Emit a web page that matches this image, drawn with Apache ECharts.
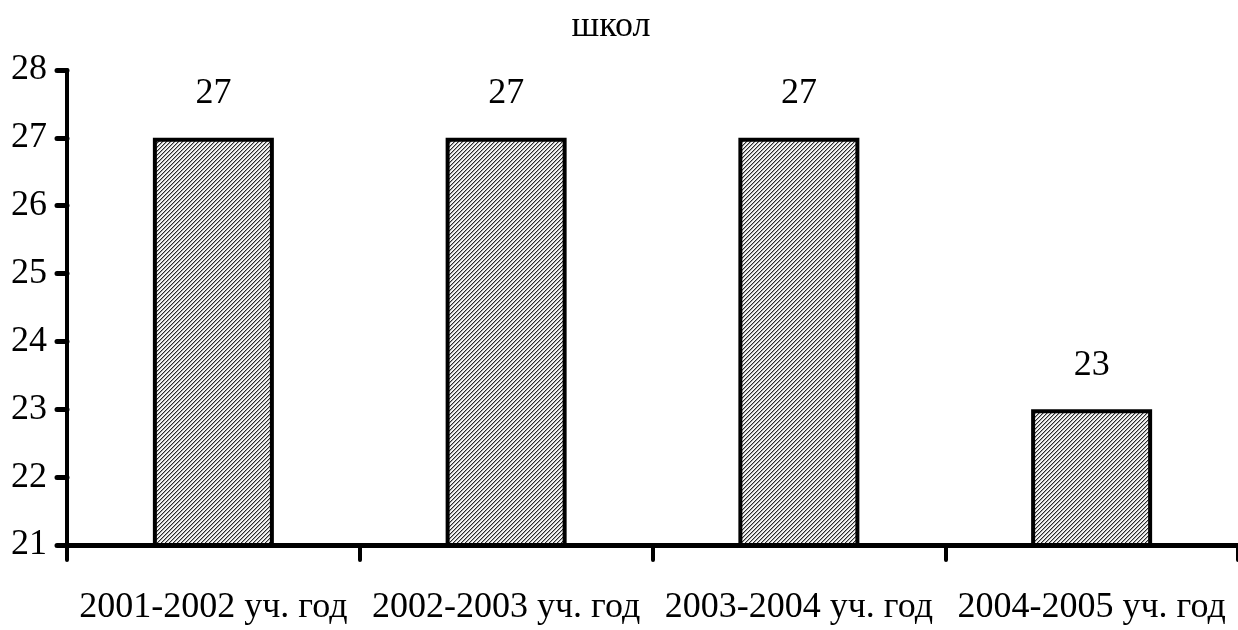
<!DOCTYPE html>
<html>
<head>
<meta charset="utf-8">
<script src="https://cdn.jsdelivr.net/npm/echarts@6/dist/echarts.min.js"></script>
<style>
html,body{margin:0;padding:0;background:#fff;}
#chart{width:1238px;height:630px;}
</style>
</head>
<body>
<div id="chart"></div>
<script>
const titleText = 'школ';
const categories = ['2001-2002 уч. год', '2002-2003 уч. год', '2003-2004 уч. год', '2004-2005 уч. год'];
const values = [27, 27, 27, 23];
const yMin = 21;
const yMax = 28;
const yInterval = 1;

function makePattern() {
  const c = document.createElement('canvas');
  c.width = 4; c.height = 4;
  const ctx = c.getContext('2d');
  ctx.fillStyle = '#f4f4f4';
  ctx.fillRect(0, 0, 4, 4);
  for (let i = 0; i < 4; i++) {
    ctx.fillStyle = '#2a2a2a';
    ctx.fillRect(i, 3 - i, 1, 1);
    ctx.fillStyle = '#a8a8a8';
    ctx.fillRect((i + 1) % 4, 3 - i, 1, 1);
  }
  return c;
}

const FONT = "'Liberation Serif', 'Times New Roman', serif";
const chart = echarts.init(document.getElementById('chart'), null, {renderer: 'canvas'});
chart.setOption({
  animation: false,
  backgroundColor: '#fff',
  title: {
    text: titleText,
    left: 606,
    textAlign: 'center',
    top: 4,
    textStyle: {fontFamily: FONT, fontSize: 36, fontWeight: 'normal', color: '#000'}
  },
  grid: {left: 67, top: 70, width: 1180, height: 475},
  xAxis: {
    type: 'category',
    data: categories,
    axisLine: {lineStyle: {color: '#000', width: 5}},
    axisTick: {show: true, length: 15, lineStyle: {color: '#000', width: 4, cap: 'round'}},
    axisLabel: {margin: 45, fontFamily: FONT, fontSize: 36, color: '#000', interval: 0}
  },
  yAxis: {
    type: 'value',
    min: yMin,
    max: yMax,
    interval: yInterval,
    splitLine: {show: false},
    axisLine: {show: true, lineStyle: {color: '#000', width: 4}},
    axisTick: {show: true, length: 10, lineStyle: {color: '#000', width: 5, cap: 'round'}},
    axisLabel: {margin: 20, fontFamily: FONT, fontSize: 36, color: '#000'}
  },
  series: [{
    type: 'bar',
    data: values,
    barWidth: 121,
    itemStyle: {
      color: {image: makePattern(), repeat: 'repeat'},
      borderColor: '#000',
      borderWidth: 4
    },
    label: {
      show: true,
      position: 'top',
      distance: 26,
      fontFamily: FONT,
      fontSize: 36,
      color: '#000'
    }
  }]
});
</script>
</body>
</html>
